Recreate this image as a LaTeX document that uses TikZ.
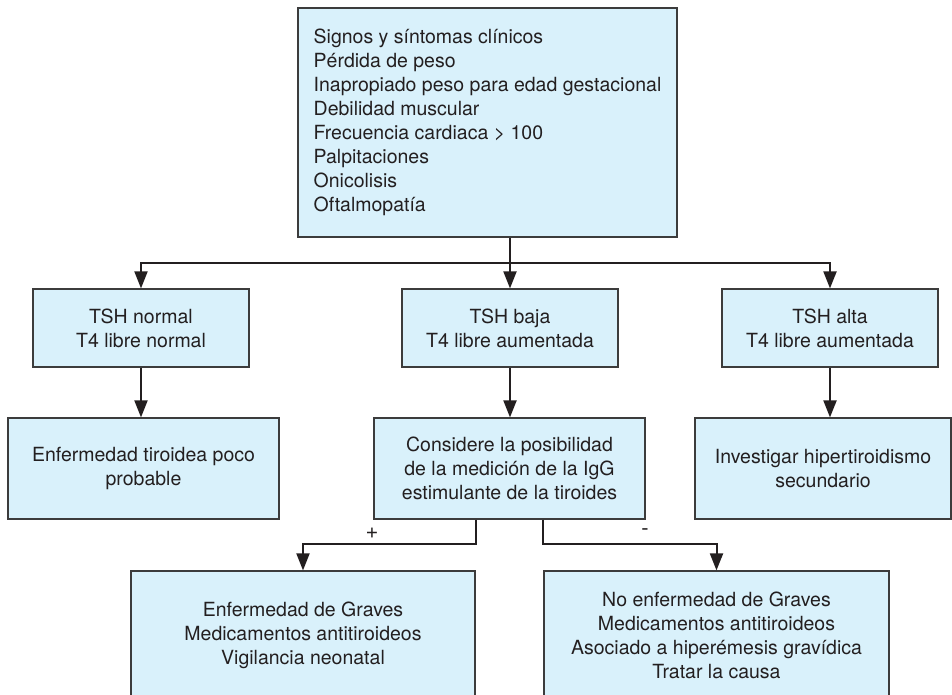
\documentclass[tikz,border=0pt]{standalone}
\usepackage{fontspec}
\setmainfont{TeX Gyre Heros}
\usetikzlibrary{arrows.meta}
\definecolor{boxfill}{HTML}{D9F1FB}
\definecolor{ink}{HTML}{231F20}
\definecolor{edge}{HTML}{3C3C3C}
\tikzset{
  box/.style={draw=edge, line width=1.2pt, fill=boxfill, text=ink, inner sep=0pt,
    align=center, font=\fontsize{19.5}{24}\selectfont},
  conn/.style={draw=ink, line width=2pt},
  arr/.style={conn, -{Triangle[length=17pt,width=13pt]}},
  lbl/.style={text=ink, inner sep=0pt, font=\fontsize{22}{24}\selectfont}
}
\begin{document}
\begin{tikzpicture}[x=1pt,y=-1pt]
\useasboundingbox (0,0) rectangle (952,695);
\clip (0,0) rectangle (952,695);
\node[box, align=left, minimum width=379pt, minimum height=229pt] (top) at (487.5,122.5)
  {Signos y síntomas clínicos\\Pérdida de peso\\Inapropiado peso para edad gestacional\\Debilidad muscular\\Frecuencia cardiaca > 100\\Palpitaciones\\Onicolisis\\Oftalmopatía};
\node[box, minimum width=216pt, minimum height=78pt] (left2) at (141,328) {TSH normal\\T4 libre normal};
\node[box, minimum width=216pt, minimum height=78pt] (mid2) at (510,328) {TSH baja\\T4 libre aumentada};
\node[box, minimum width=216pt, minimum height=78pt] (right2) at (830,328) {TSH alta\\T4 libre aumentada};
\node[box, minimum width=271pt, minimum height=101pt] (left3) at (143.5,468.5) {Enfermedad tiroidea poco\\probable};
\node[box, minimum width=271pt, minimum height=101pt] (mid3) at (509.5,468.5) {Considere la posibilidad\\de la medición de la IgG\\estimulante de la tiroides};
\node[box, minimum width=256pt, minimum height=101pt] (right3) at (823,468.5) {Investigar hipertiroidismo\\secundario};
\node[box, minimum width=344pt, minimum height=128pt] (left4) at (303,635) {Enfermedad de Graves\\Medicamentos antitiroideos\\Vigilancia neonatal};
\node[box, minimum width=345pt, minimum height=128pt] (right4) at (716.5,635) {No enfermedad de Graves\\Medicamentos antitiroideos\\Asociado a hiperémesis gravídica\\Tratar la causa};
\coordinate (j1) at (510,263);
\coordinate (jp) at (476,544);
\coordinate (jm) at (543,544);
\draw[arr] (top.south -| mid2.north) -- (mid2.north);
\draw[arr] (j1) -| (left2.north);
\draw[arr] (j1) -| (right2.north);
\draw[arr] (left2.south) -- (left2.south |- left3.north);
\draw[arr] (mid2.south) -- (mid2.south |- mid3.north);
\draw[arr] (right2.south) -- (right2.south |- right3.north);
\draw[arr] (mid3.south -| jp) -- (jp) -| (left4.north);
\draw[arr] (mid3.south -| jm) -- (jm) -| (right4.north);
\node[lbl] (plus) at (372,533) {+};
\node[lbl] (minus) at (645,532) {-};
\end{tikzpicture}
\end{document}
